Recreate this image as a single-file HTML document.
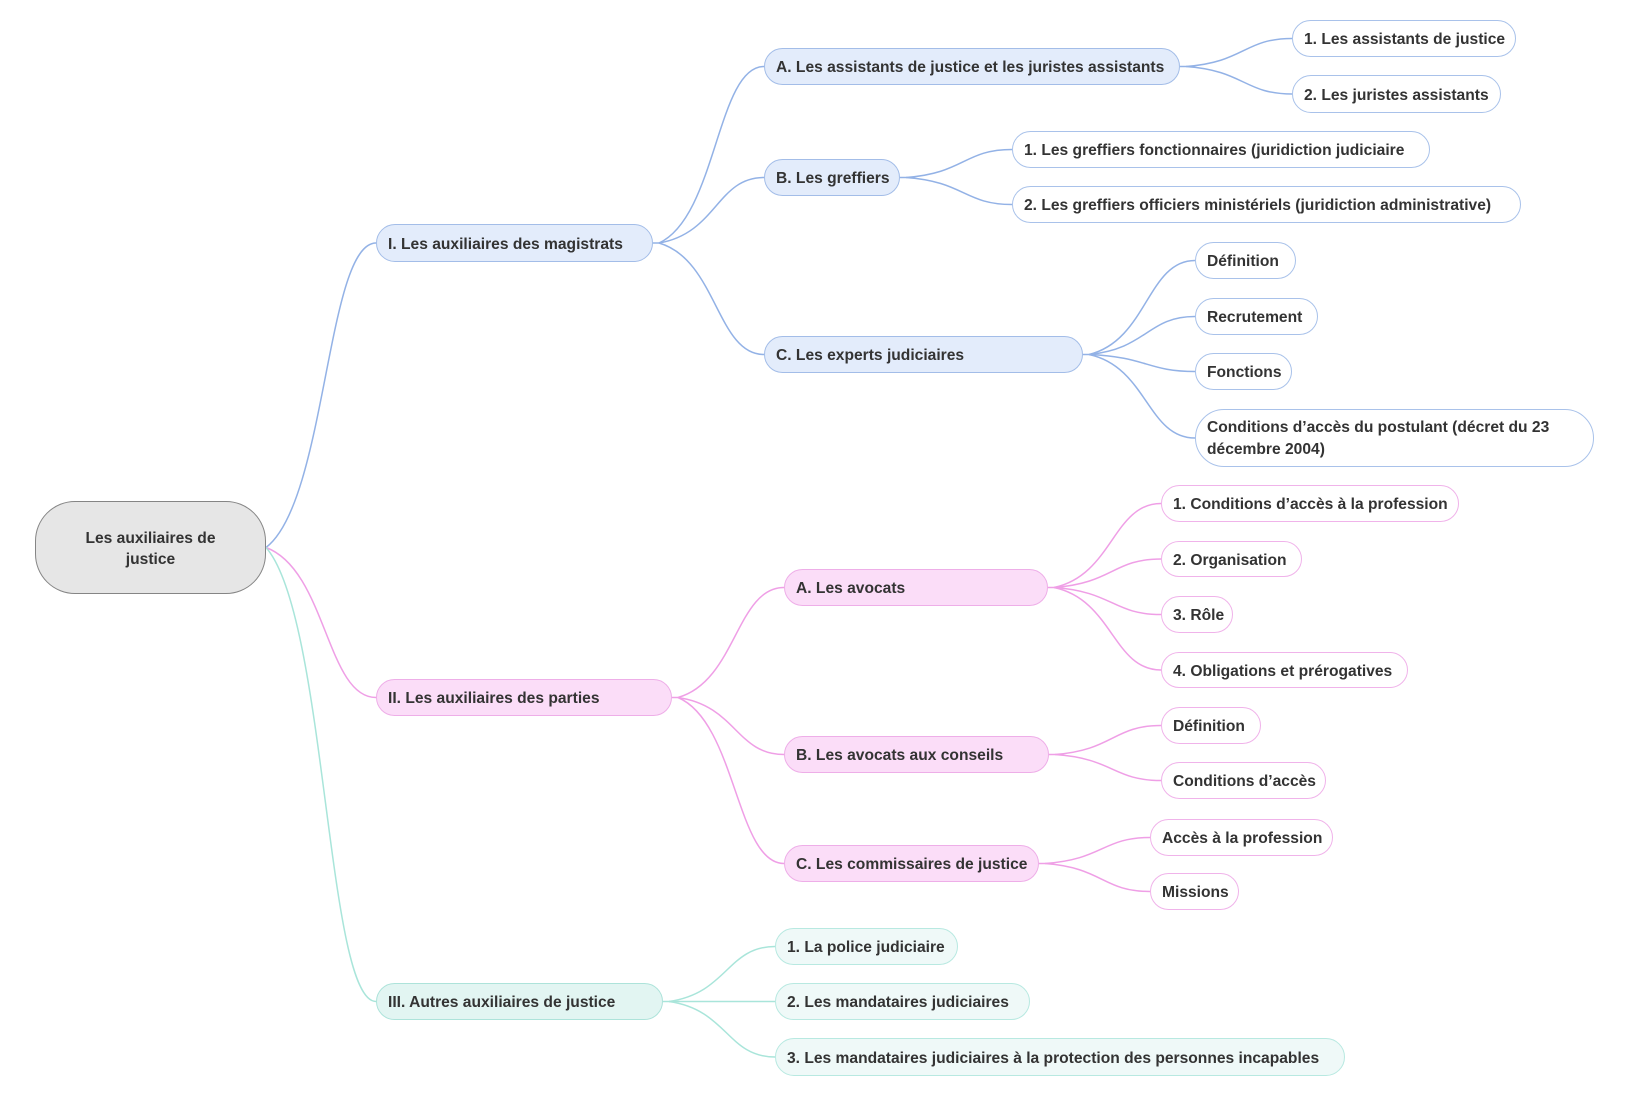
<!DOCTYPE html>
<html>
<head>
<meta charset="utf-8">
<style>
  html,body{margin:0;padding:0;background:#ffffff;}
  body{width:1625px;height:1093px;position:relative;overflow:hidden;
       font-family:"Liberation Sans", Arial, sans-serif;}
  svg{position:absolute;left:0;top:0;}
  .n{position:absolute;box-sizing:border-box;border-radius:19px;
     font-weight:bold;font-size:15.6px;color:#333333;white-space:nowrap;
     padding-left:11px;border:1.5px solid;}
  .bm{background:#e3ecfb;border-color:#a3bde8;}
  .bl{background:#ffffff;border-color:#a9c2ea;}
  .pm{background:#fbddf8;border-color:#eeaee8;}
  .pl{background:#ffffff;border-color:#f0b3ea;}
  .tm{background:#e2f5f2;border-color:#ade3da;}
  .tl{background:#eff9f8;border-color:#b8e9e1;}
  .root{position:absolute;box-sizing:border-box;left:35px;top:501px;width:231px;height:93px;
        border-radius:40px;background:#e6e6e6;border:1.5px solid #858585;
        font-weight:bold;font-size:15.6px;color:#333333;text-align:center;
        display:flex;align-items:center;justify-content:center;line-height:21px;padding-top:3px;}
</style>
</head>
<body>
<svg width="1625" height="1093" viewBox="0 0 1625 1093" fill="none" stroke-width="1.5">
  <g stroke="#93b2e6">
    <path d="M266 547.5 C326.5 501.8 326.5 243 376 243"/>
    <path d="M653 243 L659 243"/>
    <path d="M659 243 C716.8 216.5 716.8 66.5 764 66.5"/>
    <path d="M659 243 C716.8 233.2 716.8 177.5 764 177.5"/>
    <path d="M659 243 C716.8 259.7 716.8 354.5 764 354.5"/>
    <path d="M1180 66.5 L1186 66.5"/>
    <path d="M1186 66.5 C1244.3 62.3 1244.3 38.5 1292 38.5"/>
    <path d="M1186 66.5 C1244.3 70.6 1244.3 94 1292 94"/>
    <path d="M900 177.5 L906 177.5"/>
    <path d="M906 177.5 C964.3 173.3 964.3 149.5 1012 149.5"/>
    <path d="M906 177.5 C964.3 181.6 964.3 204.5 1012 204.5"/>
    <path d="M1083 354.5 L1089 354.5"/>
    <path d="M1089 354.5 C1147.3 340.4 1147.3 260.5 1195 260.5"/>
    <path d="M1089 354.5 C1147.3 348.8 1147.3 316.5 1195 316.5"/>
    <path d="M1089 354.5 C1147.3 357 1147.3 371.5 1195 371.5"/>
    <path d="M1089 354.5 C1147.3 367 1147.3 438 1195 438"/>
  </g>
  <g stroke="#ef9fe6">
    <path d="M266 547.5 C326.5 570 326.5 697.5 376 697.5"/>
    <path d="M672 697.5 L678 697.5"/>
    <path d="M678 697.5 C736.3 681 736.3 587.5 784 587.5"/>
    <path d="M678 697.5 C736.3 706 736.3 754.5 784 754.5"/>
    <path d="M678 697.5 C736.3 722.4 736.3 863.5 784 863.5"/>
    <path d="M1048 587.5 L1054 587.5"/>
    <path d="M1054 587.5 C1112.9 574.9 1112.9 503.5 1161 503.5"/>
    <path d="M1054 587.5 C1112.9 583.2 1112.9 559 1161 559"/>
    <path d="M1054 587.5 C1112.9 591.6 1112.9 614.5 1161 614.5"/>
    <path d="M1054 587.5 C1112.9 599.9 1112.9 670 1161 670"/>
    <path d="M1049 754.5 L1055 754.5"/>
    <path d="M1055 754.5 C1113.3 750.2 1113.3 725.5 1161 725.5"/>
    <path d="M1055 754.5 C1113.3 758.4 1113.3 780.5 1161 780.5"/>
    <path d="M1039 863.5 L1045 863.5"/>
    <path d="M1045 863.5 C1102.8 859.6 1102.8 837.5 1150 837.5"/>
    <path d="M1045 863.5 C1102.8 867.7 1102.8 891.5 1150 891.5"/>
  </g>
  <g stroke="#a9e5da">
    <path d="M266 547.5 C326.5 615.6 326.5 1001.5 376 1001.5"/>
    <path d="M663 1001.5 L669 1001.5"/>
    <path d="M669 1001.5 C727.3 993.3 727.3 946.5 775 946.5"/>
    <path d="M669 1001.5 L775 1001.5"/>
    <path d="M669 1001.5 C727.3 1009.8 727.3 1057 775 1057"/>
  </g>
</svg>

<div class="root"><div>Les auxiliaires de<br>justice</div></div>

<!-- Branch I -->
<div class="n bm" style="left:376px;top:224px;width:277px;height:38px;line-height:39px;">I. Les auxiliaires des magistrats</div>
<div class="n bm" style="left:764px;top:48px;width:416px;height:37px;line-height:38px;">A. Les assistants de justice et les juristes assistants</div>
<div class="n bl" style="left:1292px;top:20px;width:224px;height:37px;line-height:38px;">1. Les assistants de justice</div>
<div class="n bl" style="left:1292px;top:75px;width:209px;height:38px;line-height:39px;">2. Les juristes assistants</div>
<div class="n bm" style="left:764px;top:159px;width:136px;height:37px;line-height:38px;">B. Les greffiers</div>
<div class="n bl" style="left:1012px;top:131px;width:418px;height:37px;line-height:38px;">1. Les greffiers fonctionnaires (juridiction judiciaire</div>
<div class="n bl" style="left:1012px;top:186px;width:509px;height:37px;line-height:38px;">2. Les greffiers officiers ministériels (juridiction administrative)</div>
<div class="n bm" style="left:764px;top:336px;width:319px;height:37px;line-height:38px;">C. Les experts judiciaires</div>
<div class="n bl" style="left:1195px;top:242px;width:101px;height:37px;line-height:38px;">Définition</div>
<div class="n bl" style="left:1195px;top:298px;width:123px;height:37px;line-height:38px;">Recrutement</div>
<div class="n bl" style="left:1195px;top:353px;width:97px;height:37px;line-height:38px;">Fonctions</div>
<div class="n bl" style="left:1195px;top:409px;width:399px;height:58px;line-height:22px;padding-top:7px;border-radius:29px;">Conditions d’accès du postulant (décret du 23<br>décembre 2004)</div>

<!-- Branch II -->
<div class="n pm" style="left:376px;top:679px;width:296px;height:37px;line-height:38px;">II. Les auxiliaires des parties</div>
<div class="n pm" style="left:784px;top:569px;width:264px;height:37px;line-height:38px;">A. Les avocats</div>
<div class="n pl" style="left:1161px;top:485px;width:298px;height:37px;line-height:38px;">1. Conditions d’accès à la profession</div>
<div class="n pl" style="left:1161px;top:541px;width:141px;height:36px;line-height:37px;">2. Organisation</div>
<div class="n pl" style="left:1161px;top:596px;width:72px;height:37px;line-height:38px;">3. Rôle</div>
<div class="n pl" style="left:1161px;top:652px;width:247px;height:36px;line-height:37px;">4. Obligations et prérogatives</div>
<div class="n pm" style="left:784px;top:736px;width:265px;height:37px;line-height:38px;">B. Les avocats aux conseils</div>
<div class="n pl" style="left:1161px;top:707px;width:100px;height:37px;line-height:38px;">Définition</div>
<div class="n pl" style="left:1161px;top:762px;width:165px;height:37px;line-height:38px;">Conditions d’accès</div>
<div class="n pm" style="left:784px;top:845px;width:255px;height:37px;line-height:38px;">C. Les commissaires de justice</div>
<div class="n pl" style="left:1150px;top:819px;width:183px;height:37px;line-height:38px;">Accès à la profession</div>
<div class="n pl" style="left:1150px;top:873px;width:89px;height:37px;line-height:38px;">Missions</div>

<!-- Branch III -->
<div class="n tm" style="left:376px;top:983px;width:287px;height:37px;line-height:38px;">III. Autres auxiliaires de justice</div>
<div class="n tl" style="left:775px;top:928px;width:183px;height:37px;line-height:38px;">1. La police judiciaire</div>
<div class="n tl" style="left:775px;top:983px;width:255px;height:37px;line-height:38px;">2. Les mandataires judiciaires</div>
<div class="n tl" style="left:775px;top:1038px;width:570px;height:38px;line-height:39px;">3. Les mandataires judiciaires à la protection des personnes incapables</div>
</body>
</html>
